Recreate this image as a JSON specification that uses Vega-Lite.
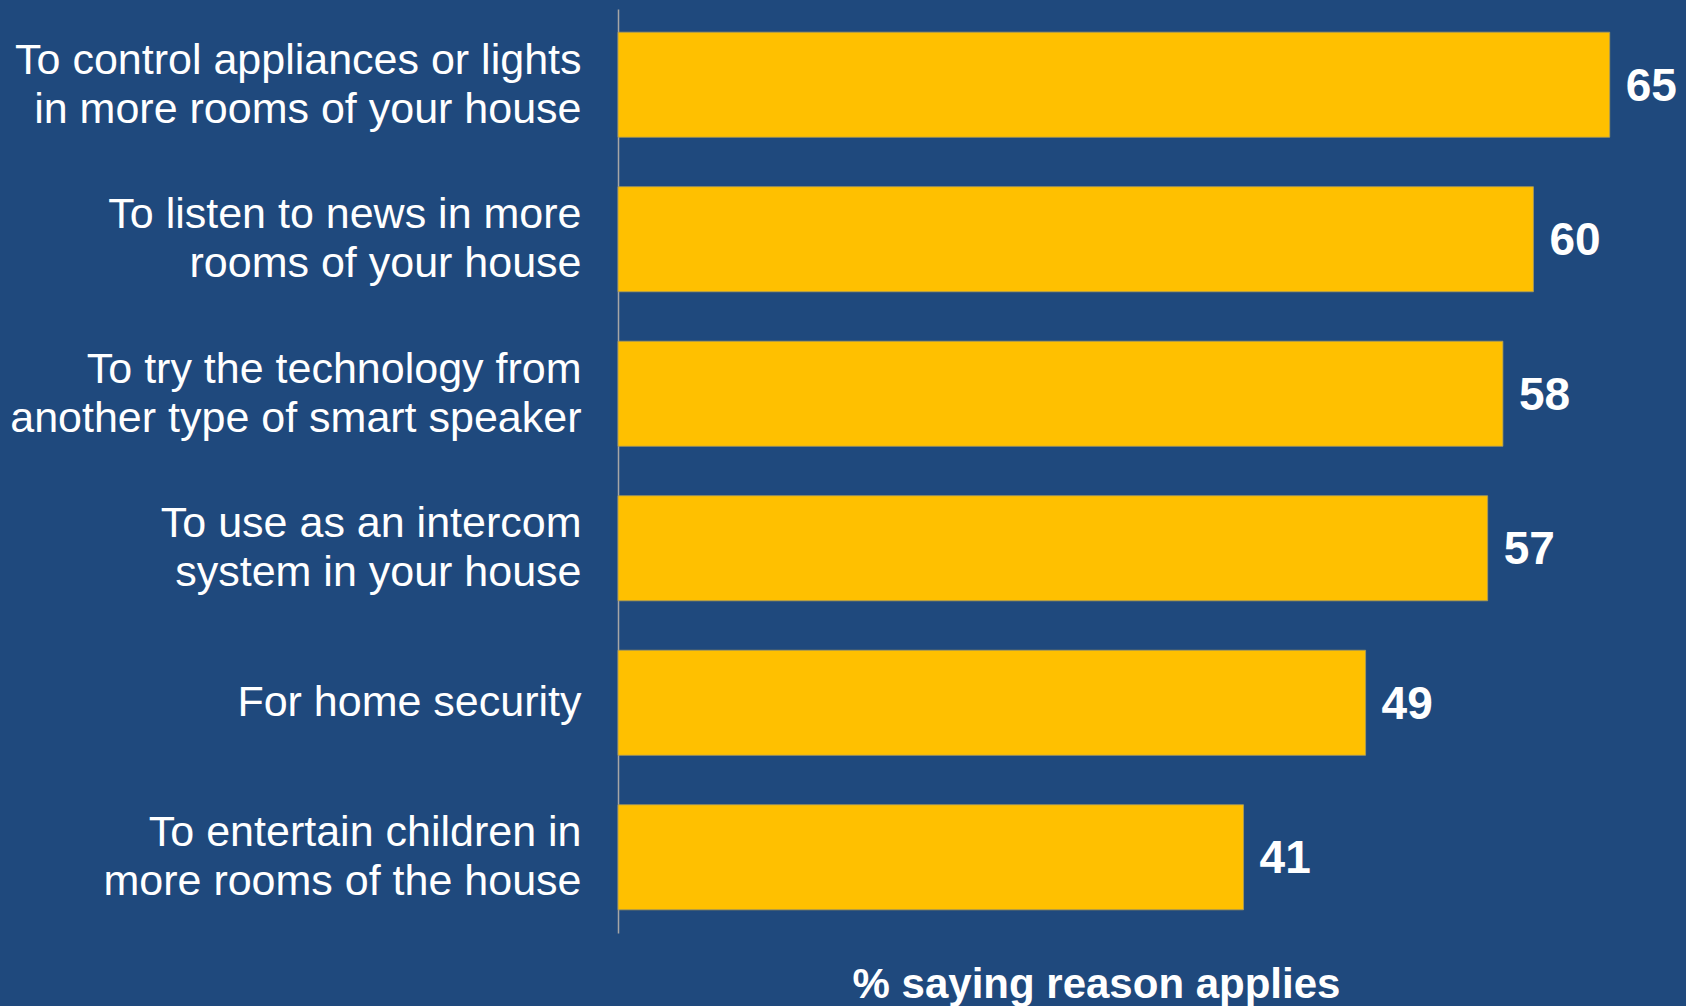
{
  "$schema": "https://vega.github.io/schema/vega-lite/v6.json",
  "width": 1068,
  "height": 924,
  "autosize": "none",
  "padding": {"left": 618, "top": 9, "right": 0, "bottom": 73},
  "background": "#1F497D",
  "config": {"view": {"stroke": null}, "font": "Liberation Sans"},
  "data": {
    "values": [
      {"reason": "To control appliances or lights|in more rooms of your house\u2007", "pct": 65},
      {"reason": "To listen to news in more|rooms of your house", "pct": 60},
      {"reason": "To try the technology from\u2007|another type of smart speaker", "pct": 58},
      {"reason": "To use as an intercom\u2007|system in your house", "pct": 57},
      {"reason": "For home security", "pct": 49},
      {"reason": "To entertain children in\u2007|more rooms of the house", "pct": 41}
    ]
  },
  "encoding": {
    "y": {
      "field": "reason",
      "type": "nominal",
      "sort": null,
      "scale": {"paddingInner": 0.32, "paddingOuter": 0.15},
      "axis": {
        "title": null,
        "ticks": false,
        "domainColor": "#A6A6A6",
        "domainWidth": 1.5,
        "labelFont": "Liberation Sans",
        "labelFontSize": 43,
        "labelColor": "#FFFFFF",
        "labelPadding": 37,
        "labelLineHeight": 49,
        "labelLimit": 800,
        "labelOffset": {"condition": {"test": "indexof(datum.value, '|') >= 0", "value": -24}, "value": 0},
        "labelExpr": "split(datum.value, '|')"
      }
    },
    "x": {
      "field": "pct",
      "type": "quantitative",
      "scale": {"domain": [0, 70]},
      "axis": {
        "domain": false,
        "ticks": false,
        "labels": false,
        "grid": false,
        "title": "% saying reason applies",
        "titleFont": "Liberation Sans",
        "titleFontSize": 42,
        "titleFontWeight": "bold",
        "titleColor": "#FFFFFF",
        "titleX": 478,
        "titleY": 64,
        "titleBaseline": "alphabetic",
        "titleAlign": "center"
      }
    }
  },
  "layer": [
    {"mark": {"type": "bar", "color": "#FFC000", "stroke": "#A89A5E", "strokeWidth": 0.8}},
    {
      "mark": {"type": "text", "font": "Liberation Sans", "align": "left", "baseline": "middle", "dx": 16, "dy": 2, "fontSize": 46, "fontWeight": "bold", "color": "#FFFFFF"},
      "encoding": {"text": {"field": "pct", "type": "quantitative"}}
    }
  ]
}
